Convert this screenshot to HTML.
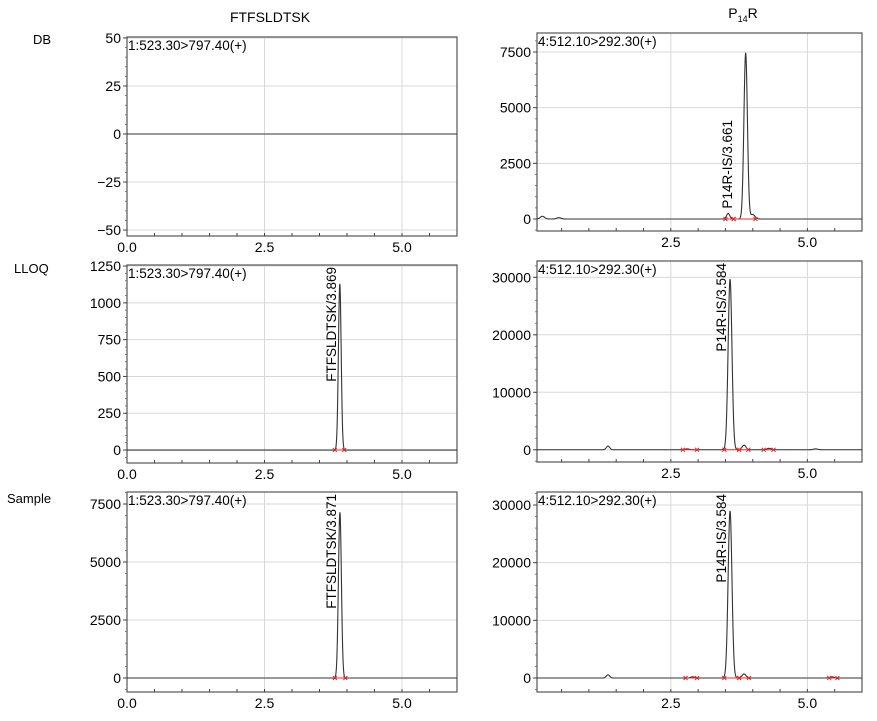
<!DOCTYPE html>
<html><head><meta charset="utf-8"><style>
html,body{margin:0;padding:0;background:#fff;}
svg{display:block;font-family:"Liberation Sans",Arial,sans-serif;}
</style></head><body>
<svg id="c" width="877" height="721" viewBox="0 0 877 721">
<text x="270" y="22" font-size="14" text-anchor="middle">FTFSLDTSK</text>
<text x="743" y="18" font-size="14" text-anchor="middle">P<tspan font-size="9" dy="4">14</tspan><tspan dy="-4">R</tspan></text>
<text x="33" y="44" font-size="13">DB</text>
<text x="14" y="273" font-size="13">LLOQ</text>
<text x="7" y="503" font-size="13">Sample</text>
</svg>
<script>
// ---- data ----
const xTicksLeft = [0.0, 2.5, 5.0];
const xTicksRight = [2.5, 5.0];
const ticksDB = [50, 25, 0, -25, -50];
const ticksLLOQLeft = [1250, 1000, 750, 500, 250, 0];
const ticksSampleLeft = [7500, 5000, 2500, 0];
const ticksDBRight = [7500, 5000, 2500, 0];
const ticksLLOQRight = [30000, 20000, 10000, 0];
const ticksSampleRight = [30000, 20000, 10000, 0];
// peaks: [retention time, height, width(sigma)]
const peaksDB = [];
const peaksLLOQLeft = [[3.869, 1130, 0.025]];
const peaksSampleLeft = [[3.871, 7150, 0.027]];
const peaksDBRight = [[0.15, 120, 0.04], [0.45, 60, 0.04], [3.55, 250, 0.03], [3.87, 7450, 0.032], [4.0, 200, 0.04]];
const peaksLLOQRight = [[1.35, 650, 0.03], [2.8, 150, 0.04], [3.584, 29700, 0.035], [3.84, 800, 0.035], [4.3, 250, 0.04], [5.15, 150, 0.04]];
const peaksSampleRight = [[1.35, 550, 0.03], [2.9, 200, 0.04], [3.584, 29000, 0.035], [3.84, 700, 0.035], [5.45, 200, 0.04]];
// integration markers (x start, x end)
const intLLOQLeft = [[3.78, 3.95]];
const intSampleLeft = [[3.78, 3.97]];
const intDBRight = [[3.5, 3.65], [3.65, 4.05]];
const intLLOQRight = [[2.72, 2.98], [3.48, 3.75], [3.75, 3.92], [4.2, 4.38]];
const intSampleRight = [[2.77, 2.98], [3.48, 3.75], [3.75, 3.93], [5.4, 5.55]];

const NS = "http://www.w3.org/2000/svg";
const svg = document.getElementById('c');
function mk(tag, attrs, parent) { const e = document.createElementNS(NS, tag); for (const k in attrs) e.setAttribute(k, attrs[k]); (parent || svg).appendChild(e); return e; }

function panel(cfg) {
  const g = mk('g', {});
  
  
  const sx = v => cfg.x0 + (v - cfg.xmin) / (cfg.xmax - cfg.xmin) * (cfg.x1 - cfg.x0);
  const sy = v => cfg.y1 - (v - cfg.ymin) / (cfg.ymax - cfg.ymin) * (cfg.y1 - cfg.y0);
  cfg.yt.forEach(t => { const l = mk('line', {x1: cfg.x0, x2: cfg.x1, y1: sy(t), y2: sy(t), stroke: '#d8d8d8', 'stroke-width': 1}, g);   });
  cfg.xt.forEach(t => { const l = mk('line', {x1: sx(t), x2: sx(t), y1: cfg.y0, y2: cfg.y1, stroke: '#d8d8d8', 'stroke-width': 1}, g);   });
  const r = mk('rect', {x: cfg.x0, y: cfg.y0, width: cfg.x1 - cfg.x0, height: cfg.y1 - cfg.y0, fill: 'none', stroke: '#555', 'stroke-width': 1.2}, g);
   
  const ystep = (cfg.yt[0] - cfg.yt[1]) / 5;
  for (let v = cfg.yt[cfg.yt.length - 1] - ystep * 5; v <= cfg.ymax; v += ystep) {
    if (v < cfg.ymin) continue;
    mk('line', {x1: cfg.x0 - 2, x2: cfg.x0, y1: sy(v), y2: sy(v), stroke: '#666', 'stroke-width': 0.8}, g);
  }
  cfg.yt.forEach(t => {
    mk('line', {x1: cfg.x0 - 4, x2: cfg.x0, y1: sy(t), y2: sy(t), stroke: '#444', 'stroke-width': 1}, g);
    const tx = mk('text', {x: cfg.x0 - 6, y: sy(t) + 5, 'font-size': 14, 'text-anchor': 'end'}, g);
    tx.textContent = t < 0 ? '\u2212' + Math.abs(t) : String(t);
     
  });
  for (let v = 0.5; v < cfg.xmax; v += 0.5) { if (v > cfg.xmin) mk('line', {x1: sx(v), x2: sx(v), y1: cfg.y1, y2: cfg.y1 - 3, stroke: '#444', 'stroke-width': 1}, g); }
  cfg.xt.forEach(t => {
    const tx = mk('text', {x: sx(t), y: cfg.y1 + 16, 'font-size': 14, 'text-anchor': 'middle'}, g);
    tx.textContent = t.toFixed(1);
     
  });
  let d = '';
  for (let i = 0; i <= 1200; i++) {
    const x = cfg.xmin + (cfg.xmax - cfg.xmin) * i / 1200;
    let y = 0;
    cfg.peaks.forEach(p => { y += p[1] * Math.exp(-0.5 * Math.pow((x - p[0]) / p[2], 2)); });
    d += (i ? 'L' : 'M') + sx(x).toFixed(2) + ' ' + sy(y).toFixed(2);
  }
  const tr = mk('path', {d: d, fill: 'none', stroke: '#333', 'stroke-width': 1.1}, g);
   
  cfg.ints.forEach(s => {
    const m = mk('path', {d: `M${sx(s[0])} ${sy(0)}L${sx(s[1])} ${sy(0)}M${sx(s[0]) - 2} ${sy(0) - 2}l4 4M${sx(s[0]) + 2} ${sy(0) - 2}l-4 4M${sx(s[1]) - 2} ${sy(0) - 2}l4 4M${sx(s[1]) + 2} ${sy(0) - 2}l-4 4`, stroke: '#e23030', 'stroke-width': 1, fill: 'none'}, g);
     
  });
  const ch = mk('text', {x: cfg.x0 + 1, y: cfg.y0 + 13, 'font-size': 13.5}, g);
  ch.textContent = cfg.chan;
   
  if (cfg.plabel) {
    const px = sx(cfg.plabel[1]), py = cfg.plabel[2];
    const pl = mk('text', {x: 0, y: 0, 'font-size': 13.5, 'text-anchor': 'end', transform: `translate(${px},${py}) rotate(-90)`}, g);
    pl.textContent = cfg.plabel[0];
     
  }
}

const L = {x0: 127, x1: 457, xmin: 0, xmax: 6.0, xt: xTicksLeft};
const R = {x0: 537, x1: 862, xmin: 0.05, xmax: 6.0, xt: xTicksRight};
panel(Object.assign({}, L, {name: 'panel-db-ftfsldtsk', y0: 37, y1: 236, ymin: -53.1, ymax: 50.5, yt: ticksDB, peaks: peaksDB, ints: [], chan: '1:523.30>797.40(+)'}));
panel(Object.assign({}, L, {name: 'panel-lloq-ftfsldtsk', y0: 265, y1: 463, ymin: -88, ymax: 1257, yt: ticksLLOQLeft, peaks: peaksLLOQLeft, ints: intLLOQLeft, chan: '1:523.30>797.40(+)', plabel: ['FTFSLDTSK/3.869', 3.80, 267]}));
panel(Object.assign({}, L, {name: 'panel-sample-ftfsldtsk', y0: 492, y1: 692, ymin: -603, ymax: 8017, yt: ticksSampleLeft, peaks: peaksSampleLeft, ints: intSampleLeft, chan: '1:523.30>797.40(+)', plabel: ['FTFSLDTSK/3.871', 3.80, 494]}));
panel(Object.assign({}, R, {name: 'panel-db-p14r', y0: 33, y1: 231, ymin: -539, ymax: 8353, yt: ticksDBRight, peaks: peaksDBRight, ints: intDBRight, chan: '4:512.10>292.30(+)', plabel: ['P14R-IS/3.661', 3.62, 120]}));
panel(Object.assign({}, R, {name: 'panel-lloq-p14r', y0: 261, y1: 462, ymin: -2130, ymax: 32840, yt: ticksLLOQRight, peaks: peaksLLOQRight, ints: intLLOQRight, chan: '4:512.10>292.30(+)', plabel: ['P14R-IS/3.584', 3.51, 263]}));
panel(Object.assign({}, R, {name: 'panel-sample-p14r', y0: 492, y1: 692, ymin: -2428, ymax: 32254, yt: ticksSampleRight, peaks: peaksSampleRight, ints: intSampleRight, chan: '4:512.10>292.30(+)', plabel: ['P14R-IS/3.584', 3.51, 494]}));
</script>
</body></html>
